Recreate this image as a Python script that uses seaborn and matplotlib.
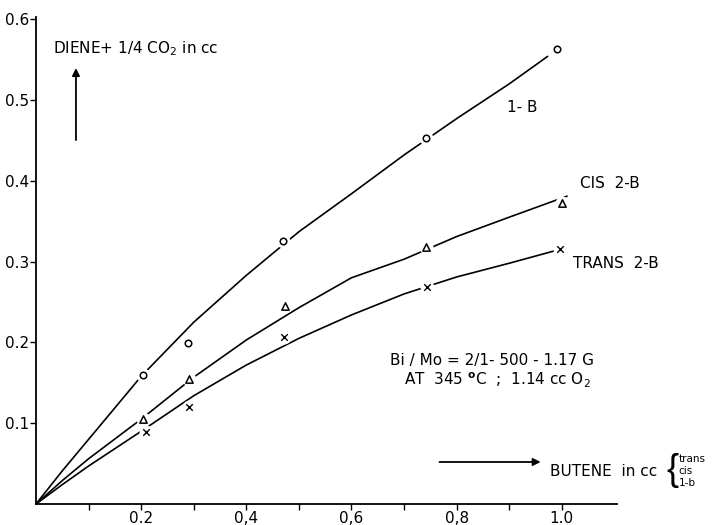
import matplotlib
matplotlib.use("Agg")
import matplotlib.pyplot as plt
import seaborn as sns
import pandas as pd

# measured points
b1_x = [0.203, 0.289, 0.470, 0.741, 0.990]
b1_y = [0.160, 0.199, 0.325, 0.453, 0.563]
cis_x = [0.203, 0.291, 0.473, 0.741, 1.000]
cis_y = [0.105, 0.155, 0.245, 0.318, 0.373]
trans_x = [0.209, 0.291, 0.472, 0.743, 0.996]
trans_y = [0.089, 0.120, 0.207, 0.269, 0.316]

# hand-drawn curves
b1_cx = [0.0, 0.05, 0.1, 0.2, 0.3, 0.4, 0.5, 0.6, 0.7, 0.8, 0.9, 0.973]
b1_cy = [0.0, 0.041, 0.080, 0.158, 0.225, 0.283, 0.337, 0.384, 0.432, 0.477, 0.520, 0.554]
cis_cx = [0.0, 0.05, 0.1, 0.2, 0.3, 0.4, 0.5, 0.6, 0.7, 0.8, 0.9, 1.01]
cis_cy = [0.0, 0.029, 0.056, 0.105, 0.157, 0.203, 0.243, 0.280, 0.303, 0.331, 0.355, 0.381]
trans_cx = [0.0, 0.05, 0.1, 0.2, 0.3, 0.4, 0.5, 0.6, 0.7, 0.8, 0.9, 0.99]
trans_cy = [0.0, 0.024, 0.047, 0.090, 0.134, 0.172, 0.205, 0.234, 0.260, 0.281, 0.298, 0.314]

xtick_vals = [0.2, 0.4, 0.6, 0.8, 1.0]
xtick_labels = ["0.2", "0,4", "0,6", "0,8", "1.0"]
ytick_vals = [0.1, 0.2, 0.3, 0.4, 0.5, 0.6]
ytick_labels = ["0.1", "0.2", "0.3", "0.4", "0.5", "0.6"]

sns.set_style("ticks")
plt.rcParams['font.family'] = ['DejaVu Sans']
plt.rcParams['text.color'] = 'black'
plt.rcParams['xtick.color'] = 'black'
plt.rcParams['ytick.color'] = 'black'

fig = plt.figure(figsize=(7.2, 5.25), dpi=100)
ax = fig.add_axes([0.05, 0.04, 0.807, 0.928])

curves = [(b1_cx, b1_cy), (cis_cx, cis_cy), (trans_cx, trans_cy)]
for cx, cy in curves:
    df = pd.DataFrame({"x": cx, "y": cy})
    sns.lineplot(data=df, x="x", y="y", sort=False, estimator=None,
                 color="black", linewidth=1.2, ax=ax, zorder=2)

pts = [(b1_x, b1_y, "o", 22), (cis_x, cis_y, "^", 28), (trans_x, trans_y, "x", 22)]
for px, py, mk, s in pts:
    df = pd.DataFrame({"x": px, "y": py})
    # white halo to break the line around each point
    sns.scatterplot(data=df, x="x", y="y", marker="o", s=100, color="white",
                    edgecolor="white", linewidth=0, ax=ax, zorder=3)
    if mk == "x":
        sns.scatterplot(data=df, x="x", y="y", marker="x", s=s, color="black",
                        linewidth=1.0, ax=ax, zorder=4)
    else:
        sns.scatterplot(data=df, x="x", y="y", marker=mk, s=s, facecolor="white",
                        edgecolor="black", linewidth=1.1, ax=ax, zorder=4)

ax.set_xlim(0, 1.105)
ax.set_ylim(0, 0.603)
ax.set_xticks([0.1, 0.2, 0.3, 0.4, 0.5, 0.6, 0.7, 0.8, 0.9, 1.0])
ax.set_xticklabels(["", xtick_labels[0], "", xtick_labels[1], "", xtick_labels[2], "",
                    xtick_labels[3], "", xtick_labels[4]])
ax.set_yticks(ytick_vals)
ax.set_yticklabels(ytick_labels)
ax.tick_params(axis="both", direction="out", length=4, width=1.0, labelsize=11,
               color="black", labelcolor="black", pad=1)
ax.set_xlabel("")
ax.set_ylabel("")
for side in ["top", "right"]:
    ax.spines[side].set_visible(False)
for side in ["left", "bottom"]:
    ax.spines[side].set_linewidth(1.3)
    ax.spines[side].set_color("black")

fs = 11
ax.text(0.032, 0.564, "DIENE+ 1/4 CO$_2$ in cc", fontsize=fs, va="center", ha="left")
ax.annotate("", xy=(0.076, 0.543), xytext=(0.076, 0.447),
            arrowprops=dict(arrowstyle="-|>", color="black", lw=1.3, mutation_scale=11))
ax.text(0.895, 0.491, "1- B", fontsize=fs, va="center", ha="left")
ax.text(1.034, 0.397, "CIS  2-B", fontsize=fs, va="center", ha="left", clip_on=False)
ax.text(1.021, 0.298, "TRANS  2-B", fontsize=fs, va="center", ha="left", clip_on=False)
ax.text(0.673, 0.178, "Bi / Mo = 2/1- 500 - 1.17 G", fontsize=fs, va="center", ha="left")
ax.text(0.700, 0.153, "AT  345 $^{\\mathbf{o}}$C  ;  1.14 cc O$_2$", fontsize=fs, va="center", ha="left")
ax.annotate("", xy=(0.965, 0.052), xytext=(0.762, 0.052),
            arrowprops=dict(arrowstyle="-|>", color="black", lw=1.3, mutation_scale=11))
ax.text(0.977, 0.040, "BUTENE  in cc", fontsize=fs, va="center", ha="left", clip_on=False)
ax.text(1.198, 0.041, "{", fontsize=26, va="center", ha="left", clip_on=False,
        family=["Liberation Sans"])
ax.text(1.222, 0.056, "trans", fontsize=7.5, va="center", ha="left", clip_on=False)
ax.text(1.222, 0.041, "cis", fontsize=7.5, va="center", ha="left", clip_on=False)
ax.text(1.222, 0.026, "1-b", fontsize=7.5, va="center", ha="left", clip_on=False)

fig.savefig("out.png", dpi=100)
